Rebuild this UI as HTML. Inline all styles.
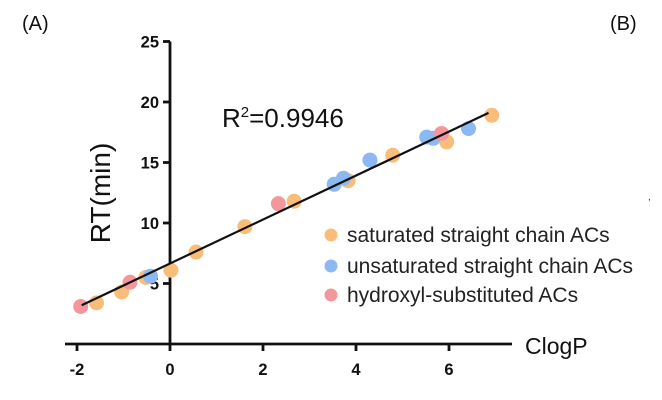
<!DOCTYPE html>
<html><head><meta charset="utf-8"><style>
html,body{margin:0;padding:0;background:#fff;}
svg{display:block;font-family:"Liberation Sans",Arial,sans-serif;}
</style></head><body>
<svg id="chart" width="662" height="400" viewBox="0 0 662 400">
<text x="22" y="30" font-size="20" fill="#111">(A)</text>
<text x="610" y="30" font-size="20" fill="#111">(B)</text>
<text x="648" y="200" font-size="10" fill="#333">,</text>
<g id="axes"></g>
<g id="marks"></g>
<text x="222" y="127" font-size="26" fill="#111">R<tspan dy="-10" font-size="15">2</tspan><tspan dy="10">=0.9946</tspan></text>
<text transform="translate(110,193) rotate(-90)" text-anchor="middle" font-size="28" fill="#111">RT(min)</text>
<text x="525" y="354" font-size="23" fill="#111">ClogP</text>
<g id="legend"></g>
</svg>
<script>
const xTicks = [-2, 0, 2, 4, 6];
const yTicks = [5, 10, 15, 20, 25];
const seriesNames = ["saturated straight chain ACs", "unsaturated straight chain ACs", "hydroxyl-substituted ACs"];
const satX = [-1.58, -1.04, -0.52, 0.02, 0.56, 1.61, 2.67, 3.83, 4.79, 5.95, 6.92];
const satY = [3.4, 4.3, 5.5, 6.1, 7.6, 9.7, 11.8, 13.5, 15.6, 16.7, 18.9];
const unsatX = [-0.42, 3.53, 3.73, 4.3, 5.52, 5.66, 6.42];
const unsatY = [5.6, 13.2, 13.7, 15.2, 17.1, 17.0, 17.8];
const hydX = [-1.92, -0.86, 2.33, 5.84];
const hydY = [3.1, 5.1, 11.6, 17.4];
const fitX = [-1.9, 6.85];
const fitY = [3.2, 19.1];

const NS = "http://www.w3.org/2000/svg";
const sx = v => 170 + v * 46.5;
const sy = v => 344 - v * 12.1;
function mk(tag, attrs, parent) {
  const e = document.createElementNS(NS, tag);
  for (const k in attrs) e.setAttribute(k, attrs[k]);
  parent.appendChild(e);
  return e;
}
const axes = document.getElementById('axes');
const marks = document.getElementById('marks');
const legend = document.getElementById('legend');

let el = mk('line', {x1: 65, x2: 512, y1: 344, y2: 344, stroke: '#111', 'stroke-width': 2.8}, axes);


el = mk('line', {x1: 170, x2: 170, y1: sy(25), y2: 345, stroke: '#111', 'stroke-width': 2.8}, axes);


xTicks.forEach(t => {
  let tk = mk('line', {x1: sx(t), x2: sx(t), y1: 344, y2: 351, stroke: '#111', 'stroke-width': 2.8}, axes);
  
  
  let lb = mk('text', {x: sx(t), y: 375, 'text-anchor': 'middle', 'font-size': 16.5, 'font-weight': 'bold', fill: '#111'}, axes);
  lb.textContent = t;
  
  
});
yTicks.forEach(t => {
  let tk = mk('line', {x1: 163, x2: 170, y1: sy(t), y2: sy(t), stroke: '#111', 'stroke-width': 2.8}, axes);
  
  
  let lb = mk('text', {x: 159, y: sy(t) + 6, 'text-anchor': 'end', 'font-size': 16.5, 'font-weight': 'bold', fill: '#111'}, axes);
  lb.textContent = t;
  
  
});
function pts(xs, ys, color, name) {
  xs.forEach((x, i) => {
    let c = mk('circle', {cx: sx(x), cy: sy(ys[i]), r: 7.5, fill: color}, marks);
    
    
  });
}
pts(satX, satY, '#f9bd7a', 'saturated-point');
pts(unsatX, unsatY, '#8cb9f2', 'unsaturated-point');
pts(hydX, hydY, '#f4979d', 'hydroxyl-point');
el = mk('line', {x1: sx(fitX[0]), y1: sy(fitY[0]), x2: sx(fitX[1]), y2: sy(fitY[1]), stroke: '#111', 'stroke-width': 2.2}, marks);


const colors = ['#f9bd7a', '#8cb9f2', '#f4979d'];
const ly = [235, 266, 295];
seriesNames.forEach((n, i) => {
  let c = mk('circle', {cx: 331, cy: ly[i], r: 6.5, fill: colors[i]}, legend);
  
  
  let t = mk('text', {x: 347, y: ly[i] + 7, 'font-size': 21, fill: '#222'}, legend);
  t.textContent = n;
  
  
});
</script>
</body></html>
